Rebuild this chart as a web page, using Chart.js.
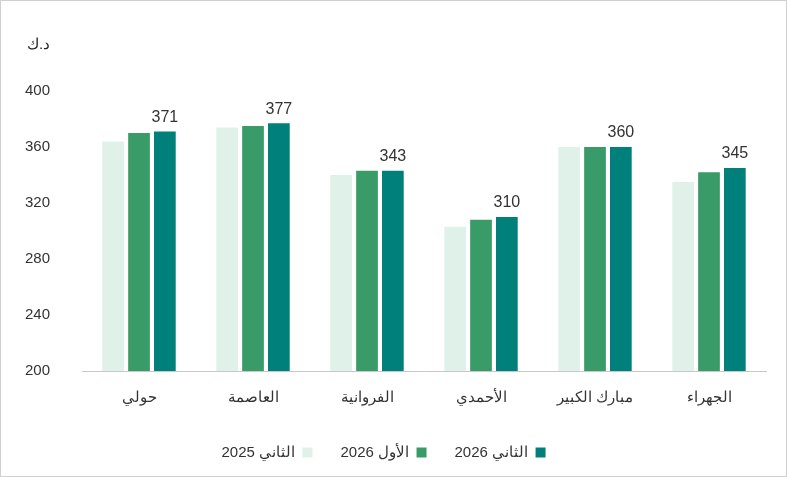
<!DOCTYPE html>
<html>
<head>
<meta charset="utf-8">
<script src="https://cdn.jsdelivr.net/npm/chart.js@4"></script>
<style>
  body { margin: 0; background: #fff; }
  #wrap { position: absolute; left: 0; top: 0; width: 785px; height: 475px; border: 1px solid #d0d0d0; }
  #unit { position: absolute; left: 26px; top: 34px; font: 15px "Liberation Sans", Arial, sans-serif; color: #222; direction: rtl; }
</style>
</head>
<body>
<div id="wrap">
  <div id="unit">د.ك</div>
  <canvas id="c" width="785" height="475"></canvas>
</div>
<script>
// areas
const categories = ['حولي', 'العاصمة', 'الفروانية', 'الأحمدي', 'مبارك الكبير', 'الجهراء'];
const seriesNames = ['الثاني 2025', 'الأول 2026', 'الثاني 2026'];
const q2_2025 = [364, 374, 340, 303, 360, 335];
const q1_2026 = [370, 375, 343, 308, 360, 342];
const q2_2026 = [371, 377, 343, 310, 360, 345];
const yTicks = [200, 240, 280, 320, 360, 400];

// labels only above the last series
const topLabels = {
    id: 'topLabels',
    afterDatasetsDraw(chart) {
        const ctx = chart.ctx;
        const meta = chart.getDatasetMeta(2);
        ctx.save();
        ctx.font = '16px "Liberation Sans", Arial, sans-serif';
        ctx.fillStyle = '#333';
        ctx.textAlign = 'center';
        ctx.textBaseline = 'bottom';
        meta.data.forEach((bar, i) => {
            ctx.fillText(q2_2026[i], bar.x, bar.y - 6);
        });
        ctx.restore();
    }
};

new Chart(document.getElementById('c'), {
    type: 'bar',
    data: {
        labels: categories,
        datasets: [
            { label: seriesNames[0], data: q2_2025, backgroundColor: '#dff1e8' },
            { label: seriesNames[1], data: q1_2026, backgroundColor: '#389b68' },
            { label: seriesNames[2], data: q2_2026, backgroundColor: '#00807b' }
        ]
    },
    options: {
        responsive: false,
        animation: false,
        layout: { padding: { left: 0, right: 20, top: 90, bottom: 6 } },
        datasets: { bar: { categoryPercentage: 0.68, barPercentage: 0.84 } },
        scales: {
            x: {
                grid: { display: false },
                border: { color: '#c8c8c8' },
                ticks: { color: '#333', font: { size: 15, family: 'Liberation Sans' }, padding: 10 }
            },
            y: {
                min: 200, max: 400,
                afterBuildTicks: s => { s.ticks = yTicks.map(v => ({ value: v })); },
                grid: { display: false },
                border: { display: false },
                ticks: { color: '#333', font: { size: 15, family: 'Liberation Sans' }, padding: 24 }
            }
        },
        plugins: {
            legend: {
                position: 'bottom',
                rtl: true,
                reverse: true,
                labels: { boxWidth: 10, boxHeight: 10, padding: 28, color: '#333', font: { size: 15, family: 'Liberation Sans' },
                    generateLabels: chart => Chart.defaults.plugins.legend.labels.generateLabels(chart) }
            },
            tooltip: { enabled: false }
        }
    },
    plugins: [topLabels, {
        id: 'legendGap',
        beforeInit(chart) {
            const fit = chart.legend.fit;
            chart.legend.fit = function () {
                fit.bind(chart.legend)();
                this.height += 0;
            };
        }
    }]
});
</script>
</body>
</html>
